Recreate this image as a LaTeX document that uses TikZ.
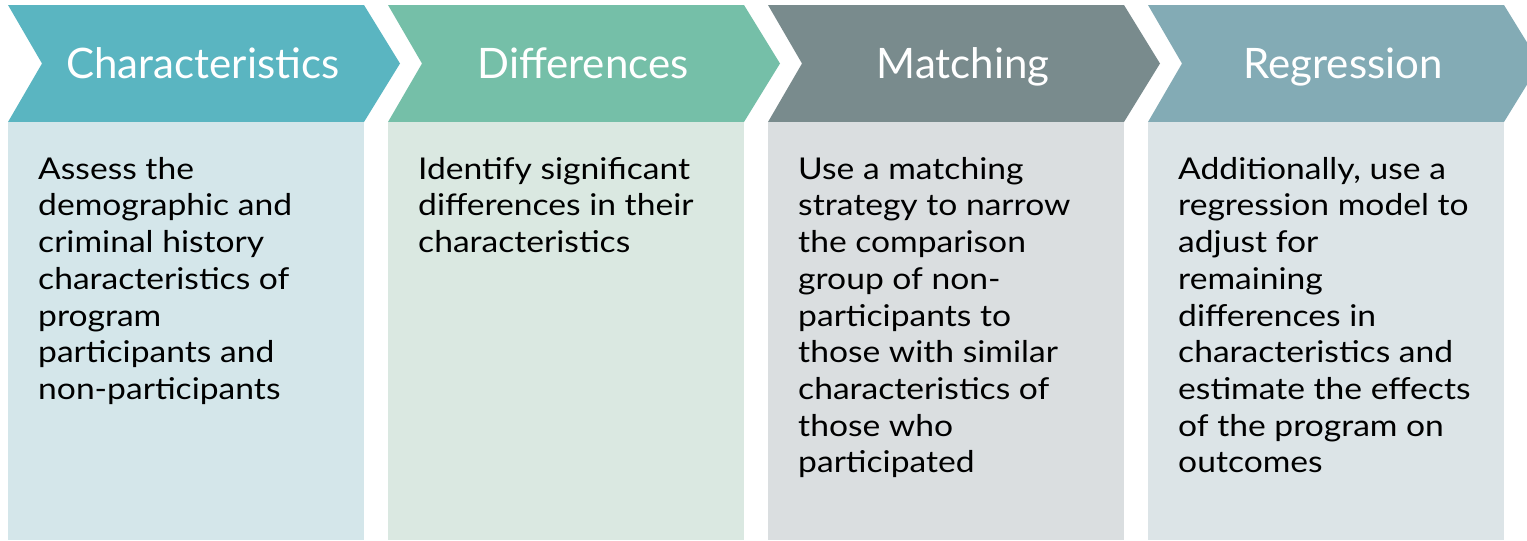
\documentclass[tikz,border=0pt]{standalone}
\usepackage{fontspec}
\setmainfont{Lato}
\newfontfamily\bodyfont[FakeStretch=1.12]{Lato}
\definecolor{headA}{HTML}{5AB5C1}
\definecolor{headB}{HTML}{75BFA8}
\definecolor{headC}{HTML}{798B8D}
\definecolor{headD}{HTML}{83ABB5}
\definecolor{boxA}{HTML}{D4E6EA}
\definecolor{boxB}{HTML}{DAE8E1}
\definecolor{boxC}{HTML}{DADEE0}
\definecolor{boxD}{HTML}{DCE4E7}
\begin{document}
\begin{tikzpicture}[x=1pt,y=-1pt,
	head/.style={text=white,anchor=base,font=\fontsize{42}{48}\selectfont},
	body/.style={anchor=north west,inner sep=0pt,align=left,font=\bodyfont\fontsize{30}{36.7}\selectfont}]
	\useasboundingbox (0,0) rectangle (1527,541);
	\clip (0,0) rectangle (1527,541);
	\foreach \i/\hc/\bc/\ttl in {0/headA/boxA/Characteristics,1/headB/boxB/Differences,
		2/headC/boxC/Matching,3/headD/boxD/Regression}
	{
		\pgfmathsetmacro\xo{8+380*\i}
		\fill[\hc] (\xo,5) -- ++(356,0) -- ++(36,58.5) -- ++(-36,58.5) -- ++(-356,0) -- ++(34,-58.5) -- cycle;
		\fill[\bc] (\xo,122) rectangle ++(356,418);
		\node[head] (h\i) at (\xo+195,78) {\ttl};
	}
	\node[body] (b0) at (38,156) {\rule{0pt}{23pt}Assess the\\demographic and\\criminal history\\characteristics of\\program\\participants and\\non-participants};
	\node[body] (b1) at (418,156) {\rule{0pt}{23pt}Identify significant\\differences in their\\characteristics};
	\node[body] (b2) at (798,156) {\rule{0pt}{23pt}Use a matching\\strategy to narrow\\the comparison\\group of non-\\participants to\\those with similar\\characteristics of\\those who\\participated};
	\node[body] (b3) at (1178,156) {\rule{0pt}{23pt}Additionally, use a\\regression model to\\adjust for\\remaining\\differences in\\characteristics and\\estimate the effects\\of the program on\\outcomes};
\end{tikzpicture}
\end{document}
